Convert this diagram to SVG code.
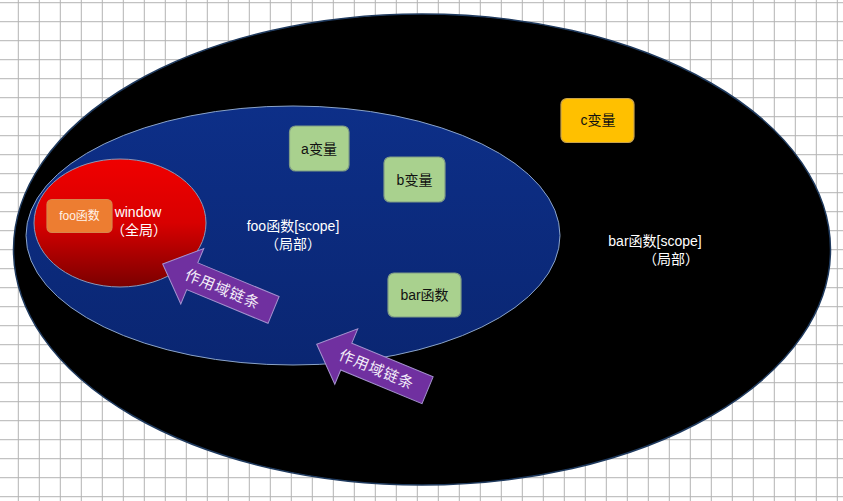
<svg xmlns="http://www.w3.org/2000/svg" width="843" height="501" viewBox="0 0 843 501">
  <defs>
    <pattern id="grid" x="17.8" y="21.2" width="21" height="19" patternUnits="userSpaceOnUse">
      <path d="M0.5 0 V19 M0 0.5 H21" stroke="#b3b3b3" stroke-width="1" fill="none"/>
    </pattern>
    <linearGradient id="redGrad" x1="0" y1="0" x2="0" y2="1">
      <stop offset="0" stop-color="#f00000"/>
      <stop offset="0.5" stop-color="#d80000"/>
      <stop offset="1" stop-color="#7a0000"/>
    </linearGradient>
    <linearGradient id="blueGrad" x1="0" y1="0" x2="0" y2="1">
      <stop offset="0" stop-color="#0d2f88"/>
      <stop offset="1" stop-color="#0a2672"/>
    </linearGradient>
    <path id="arrowShape" d="M0 0 L32 -30 L32 -14.5 L120 -14.5 L120 14.5 L32 14.5 L32 30 Z"/>
  </defs>
  <style>
    .cjk { font-family: "Liberation Sans", "Noto Sans CJK SC", sans-serif; }
    .lbl { font-size: 14px; fill: #ffffff; text-anchor: middle; }
    .box { stroke-width: 1.2; }
    .green { fill: #a9d18e; stroke: #7f9c86; }
    .btxt { font-size: 14px; fill: #111111; text-anchor: middle; dominant-baseline: central; }
    .arrow { fill: #7030a0; stroke: #a592cf; stroke-width: 1; }
    .atxt { font-size: 15px; fill: #f2ecf8; text-anchor: middle; dominant-baseline: central; letter-spacing: 1px; }
  </style>

  <rect id="background" x="0" y="0" width="843" height="501" fill="#ffffff"/>
  <rect x="0" y="0" width="843" height="501" fill="url(#grid)"/>

  <g id="bar-scope">
    <ellipse cx="422" cy="249.5" rx="408.5" ry="235.5" fill="#000000" stroke="#1f3a5e" stroke-width="1.5"/>
    <text class="cjk lbl" x="655" y="246">bar函数[scope]</text>
    <text class="cjk lbl" x="671" y="264">（局部）</text>
  </g>

  <g id="foo-scope">
    <ellipse cx="293" cy="235.5" rx="267" ry="129.5" fill="url(#blueGrad)" stroke="#8aa3c8" stroke-width="1"/>
    <text class="cjk lbl" x="293" y="231">foo函数[scope]</text>
    <text class="cjk lbl" x="293" y="249">（局部）</text>
  </g>

  <g id="window-scope">
    <ellipse cx="120" cy="223" rx="86" ry="64" fill="url(#redGrad)" stroke="#8a98b8" stroke-width="1"/>
    <text class="cjk lbl" x="138" y="217">window</text>
    <text class="cjk lbl" x="139" y="235">（全局）</text>
  </g>

  <g id="foo-func">
    <rect x="47" y="199.5" width="65" height="33" rx="5" fill="#ed7d31" stroke="#d8864a" stroke-width="1.2"/>
    <text class="cjk" x="79.5" y="216" font-size="12" fill="#fff3ea" text-anchor="middle" dominant-baseline="central">foo函数</text>
  </g>

  <g id="a-var">
    <rect class="box green" x="289.5" y="126" width="59.5" height="45" rx="6"/>
    <text class="cjk btxt" x="319" y="148.5">a变量</text>
  </g>

  <g id="b-var">
    <rect class="box green" x="384" y="157" width="61" height="45" rx="6"/>
    <text class="cjk btxt" x="414.5" y="179.5">b变量</text>
  </g>

  <g id="bar-func">
    <rect class="box green" x="388" y="273" width="73" height="44" rx="6"/>
    <text class="cjk btxt" x="424.5" y="295">bar函数</text>
  </g>

  <g id="c-var">
    <rect class="box" x="561" y="98.5" width="73" height="44" rx="6" fill="#ffc000" stroke="#c9a24a"/>
    <text class="cjk btxt" x="598" y="120">c变量</text>
  </g>

  <g id="connectors">
    <g transform="translate(162.7 264) rotate(22.5)">
      <use href="#arrowShape" class="arrow"/>
      <text class="cjk atxt" x="65" y="0">作用域链条</text>
    </g>
    <g transform="translate(316.7 344.3) rotate(22.5)">
      <use href="#arrowShape" class="arrow"/>
      <text class="cjk atxt" x="65" y="0">作用域链条</text>
    </g>
  </g>
</svg>
